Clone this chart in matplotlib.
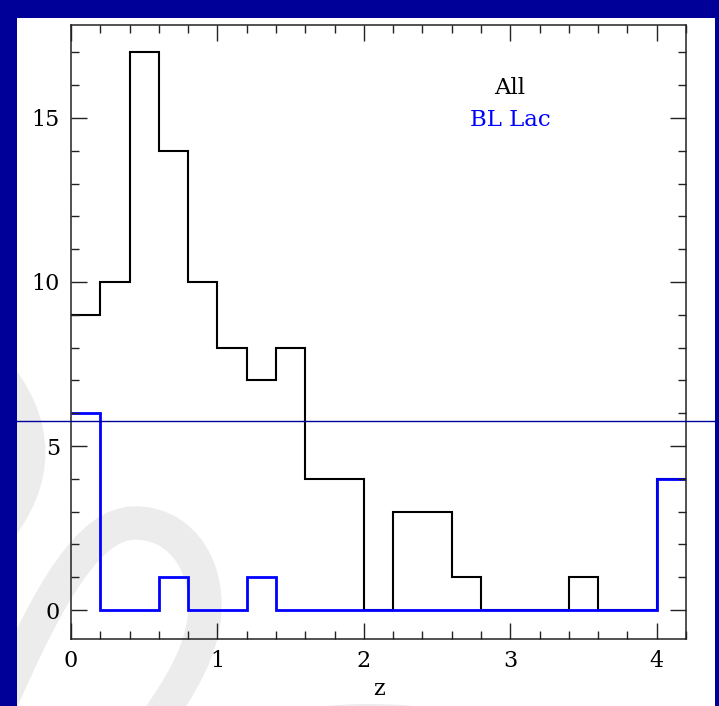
import numpy as np
import matplotlib
matplotlib.use("Agg")
import matplotlib.pyplot as plt
from matplotlib.patches import Rectangle, PathPatch
from matplotlib.path import Path
from matplotlib.lines import Line2D
from matplotlib.ticker import MultipleLocator

# redshift bins (width 0.2) and counts
z_edges = np.round(np.arange(0.0, 4.21, 0.2), 2)
all_counts = [9, 10, 17, 14, 10, 8, 7, 8, 4, 4, 0, 3, 3, 1, 0, 0, 0, 1, 0, 0, 4]
bllac_counts = [6, 0, 0, 1, 0, 0, 1, 0, 0, 0, 0, 0, 0, 0, 0, 0, 0, 0, 0, 0, 4]
labels = ["All", "BL Lac"]
colors = ["black", "#0000ff"]

W, H = 719, 706
NAVY = "#000099"
plt.rcParams['font.family'] = ['DejaVu Serif']

fig = plt.figure(figsize=(W / 100, H / 100), dpi=100, facecolor=NAVY)


def px(x, y):
    # pixel (from top-left) -> figure fraction
    return x / W, 1 - y / H


# white slide area
x0, y0 = px(17, 706)
slide = Rectangle((x0, y0), (715 - 17) / W, (706 - 18) / H,
                  transform=fig.transFigure, facecolor="white",
                  edgecolor="none", zorder=-3)
fig.add_artist(slide)

# faint watermark swooshes
swooshes = [
    [(0, 705), (50, 590), (90, 523), (135, 523),
     (178, 523), (205, 560), (205, 605),
     (205, 650), (178, 690), (150, 730)],
    [(-5, 370), (40, 425), (40, 480), (-5, 535)],
    [(240, 740), (330, 712), (440, 712), (540, 755)],
]
for pts in swooshes:
    verts = [px(*p) for p in pts]
    codes = [Path.MOVETO] + [Path.CURVE4] * (len(verts) - 1)
    sw = PathPatch(Path(verts, codes), transform=fig.transFigure,
                   facecolor="none", edgecolor="#ececec",
                   linewidth=24, capstyle="butt", zorder=-2)
    fig.add_artist(sw)
    sw.set_clip_path(slide)

ax = fig.add_axes([71 / W, 1 - 639 / H, (686 - 71) / W, (639 - 25) / H])
ax.set_facecolor("none")

ax.stairs(all_counts, z_edges, baseline=None, color=colors[0], linewidth=1.5)
ax.stairs(bllac_counts, z_edges, baseline=None, color=colors[1], linewidth=2.0)

ax.set_xlim(0, 4.2)
ax.set_ylim(-0.88, 17.83)
ax.xaxis.set_major_locator(MultipleLocator(1))
ax.xaxis.set_minor_locator(MultipleLocator(0.2))
ax.yaxis.set_major_locator(MultipleLocator(5))
ax.yaxis.set_minor_locator(MultipleLocator(1))
ax.tick_params(which="both", direction="in", top=True, right=True,
               color="#222222", labelsize=16)
ax.tick_params(which="major", length=11.5, width=1.0, pad=8)
ax.tick_params(which="minor", length=5.8, width=1.0)
for sp in ax.spines.values():
    sp.set_linewidth(1.1)
    sp.set_color("#222222")

ax.set_xlabel("z", fontsize=16, labelpad=4)

ax.text(0.714, 0.897, labels[0], transform=ax.transAxes, ha="center",
        va="center", fontsize=16.5, color=colors[0])
ax.text(0.714, 0.845, labels[1], transform=ax.transAxes, ha="center",
        va="center", fontsize=16.5, color=colors[1])

# stray horizontal rule across the slide
ly = px(0, 421)[1]
fig.add_artist(Line2D([17 / W, 715 / W], [ly, ly], transform=fig.transFigure,
                      color=NAVY, linewidth=1.0, zorder=5))

fig.savefig("out.png", dpi=100, facecolor=NAVY)
